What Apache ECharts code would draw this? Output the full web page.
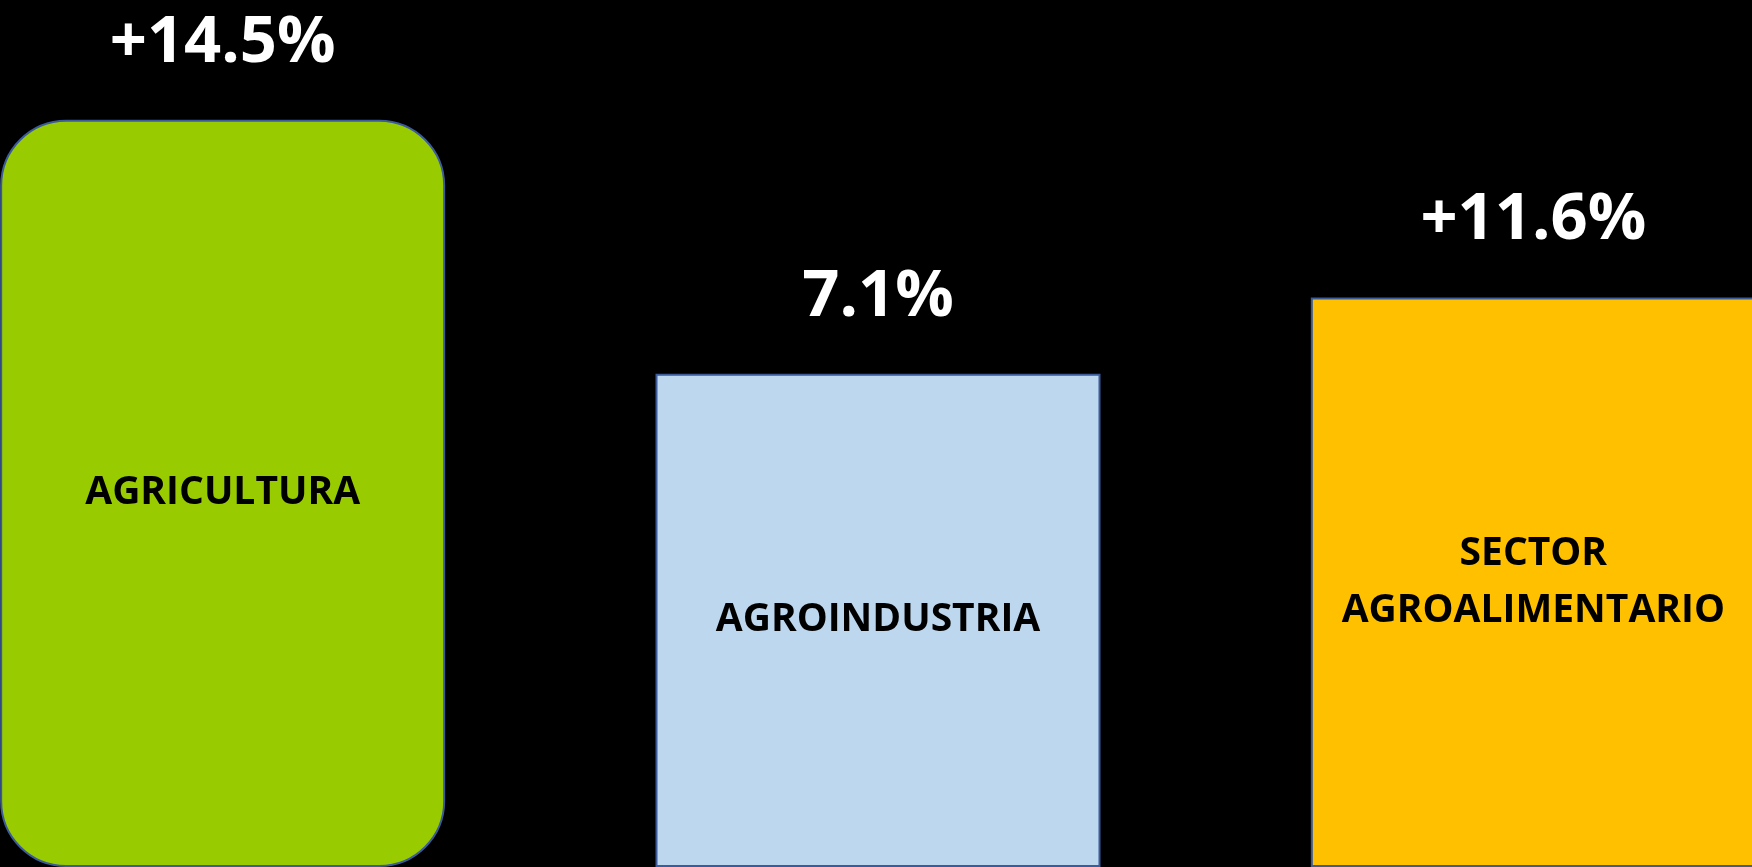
<!DOCTYPE html>
<html>
<head>
<meta charset="utf-8">
<title>Crecimiento sector agroalimentario</title>
<script src="https://cdn.jsdelivr.net/npm/echarts@6/dist/echarts.min.js"></script>
<style>
html,body{margin:0;padding:0;background:#000;overflow:hidden;}
/* el grafico es mas ancho que la ventana: las barras de los extremos quedan en el borde */
#main{width:1966px;height:867px;margin-left:-105px;}
</style>
</head>
<body>
<div id="main"></div>
<script>
// datos
var categorias = ['AGRICULTURA', 'AGROINDUSTRIA', 'SECTOR\nAGROALIMENTARIO'];
var alturas = [86.2, 56.9, 65.7];   // altura de cada barra (0-100 del alto del grafico)
var variaciones = ['+14.5%', '7.1%', '+11.6%'];
var colores = ['#99cc00', '#bdd7ee', '#ffc000'];

var myChart = echarts.init(document.getElementById('main'));

var datosBarras = [];
var datosEtiquetas = [];
for (var i = 0; i < categorias.length; i++) {
	datosBarras.push({
		value: alturas[i],
		itemStyle: {
			color: colores[i],
			borderRadius: i == 0 ? 65 : 0
		}
	});
	datosEtiquetas.push({
		value: alturas[i],
		label: { formatter: variaciones[i] }
	});
}

var option = {
	backgroundColor: '#000',
	animation: false,
	grid: {
		left: 0,
		right: 0,
		top: 0,
		bottom: 0
	},
	xAxis: {
		type: 'category',
		data: categorias,
		show: false
	},
	yAxis: {
		type: 'value',
		min: 0,
		max: 100,
		show: false
	},
	series: [
		{
			type: 'bar',
			barWidth: 445,
			data: datosBarras,
			itemStyle: {
				borderColor: '#3b5b9b',
				borderWidth: 2
			},
			label: {
				show: true,
				position: 'inside',
				formatter: function(p){ return p.name; },
				color: '#000',
				fontFamily: 'Open Sans',
				fontWeight: 'bold',
				fontSize: 39,
				lineHeight: 57,
				align: 'center'
			}
		},
		{
			type: 'bar',
			barWidth: 445,
			barGap: '-100%',
			data: datosEtiquetas,
			itemStyle: { color: 'transparent' },
			label: {
				show: true,
				position: 'top',
				distance: 44,
				color: '#fff',
				fontFamily: 'Open Sans',
				fontWeight: 'bold',
				fontSize: 65
			}
		}
	]
};
myChart.setOption(option);
window.onresize = myChart.resize;
</script>
</body>
</html>
